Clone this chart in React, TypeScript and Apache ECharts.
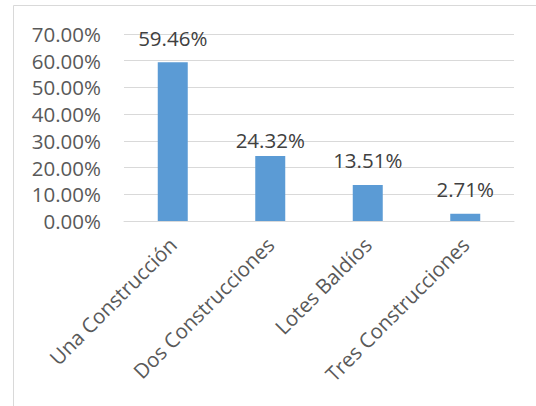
import React, { useEffect, useRef } from "react";
import * as echarts from "echarts";

const categories = ["Una Construcción", "Dos Construcciones", "Lotes Baldíos", "Tres Construcciones"];
const values = [59.46, 24.32, 13.51, 2.71];
const yMax = 70;
const yInterval = 10;

export default function App() {
  const ref = useRef<HTMLDivElement>(null);
  useEffect(() => {
    document.body.style.margin = "0";
    const chart = echarts.init(ref.current!, null, { renderer: "svg" });
    const font = "'Open Sans', sans-serif";
    const seriesData = values.map((v, i) =>
      i === 1 ? { value: v, label: { distance: 6 } } : { value: v }
    );
    chart.setOption({
      animation: false,
      backgroundColor: "#ffffff",
      graphic: [
        {
          type: "rect",
          shape: { x: 13.5, y: 5.5, width: 700, height: 700 },
          style: { fill: "none", stroke: "#D9D9D9", lineWidth: 1 },
          silent: true,
        },
      ],
      grid: { left: 124, right: 22, top: 34, bottom: 185, containLabel: false },
      xAxis: {
        type: "category",
        data: categories,
        axisLine: { show: true, lineStyle: { color: "#D9D9D9", width: 1 } },
        axisTick: { show: false },
        axisLabel: {
          rotate: 45,
          interval: 0,
          margin: 20,
          color: "#595959",
          fontFamily: font,
          fontSize: 20.5,
        },
      },
      yAxis: {
        type: "value",
        min: 0,
        max: yMax,
        interval: yInterval,
        axisLine: { show: false },
        axisTick: { show: false },
        splitLine: { lineStyle: { color: "#D9D9D9", width: 1 } },
        axisLabel: {
          margin: 23,
          color: "#595959",
          fontFamily: font,
          fontSize: 20.5,
          formatter: (v: number) => v.toFixed(2) + "%",
        },
      },
      series: [
        {
          type: "bar",
          data: seriesData,
          barWidth: 30,
          itemStyle: { color: "#5B9BD5" },
          label: {
            show: true,
            position: "top",
            distance: 14,
            color: "#404040",
            fontFamily: font,
            fontSize: 20.5,
            lineHeight: 21,
            formatter: (p: any) => p.value.toFixed(2) + "%",
          },
        },
      ],
    });
    return () => chart.dispose();
  }, []);
  return <div ref={ref} style={{ width: 536, height: 406, position: "absolute", left: 0, top: 0 }} />;
}
